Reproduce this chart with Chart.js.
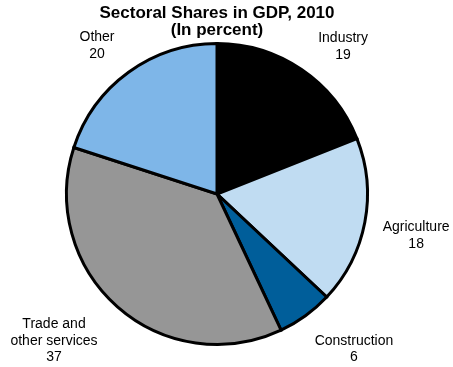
<!DOCTYPE html>
<html>
<head>
<meta charset="utf-8">
<title>Sectoral Shares in GDP, 2010</title>
<script src="https://cdn.jsdelivr.net/npm/chart.js@4/dist/chart.umd.min.js"></script>
<style>
  html, body { margin: 0; padding: 0; background: #fff; }
  #wrap { width: 453px; height: 367px; }
</style>
</head>
<body>
<div id="wrap"><canvas id="sectorPie" width="453" height="367"></canvas></div>
<script>
// sectors, clockwise from 12 o'clock
const sectors = ['Industry', 'Agriculture', 'Construction', 'Trade and other services', 'Other'];
const shares = [19, 18, 6, 37, 20];
// how each outside label is broken into lines
const labelLines = [['Industry'], ['Agriculture'], ['Construction'], ['Trade and', 'other services'], ['Other']];
const sliceColors = ['#000000', '#c0dcf2', '#005e9a', '#969696', '#7eb6e8'];

// label box shift from the point just outside each slice's middle
const labelNudge = [[19, 10], [12, 6], [25, 1], [-37, 4], [-8, 6]];

const outsideLabels = {
  id: 'outsideLabels',
  afterDatasetsDraw(chart) {
    const ctx = chart.ctx;
    const arcs = chart.getDatasetMeta(0).data;
    ctx.save();
    ctx.font = '14px "Liberation Sans", Arial, sans-serif';
    ctx.fillStyle = '#000';
    ctx.textAlign = 'center';
    ctx.textBaseline = 'middle';
    const lineH = 16.5;
    arcs.forEach((arc, i) => {
      const p = arc.getProps(['x', 'y', 'startAngle', 'endAngle', 'outerRadius'], true);
      const mid = (p.startAngle + p.endAngle) / 2;
      const r = p.outerRadius + 40;
      const cx = p.x + Math.cos(mid) * r + labelNudge[i][0];
      const cy = p.y + Math.sin(mid) * r + labelNudge[i][1];
      const lines = labelLines[i].concat([String(shares[i])]);
      const top = cy - (lines.length - 1) * lineH / 2;
      lines.forEach((t, k) => ctx.fillText(t, cx, top + k * lineH));
    });
    ctx.restore();
  }
};

new Chart(document.getElementById('sectorPie'), {
  type: 'pie',
  data: {
    labels: sectors,
    datasets: [{
      data: shares,
      backgroundColor: sliceColors,
      borderColor: '#000',
      borderWidth: 3,
      borderJoinStyle: 'miter'
    }]
  },
  options: {
    responsive: false,
    animation: false,
    layout: { padding: { left: 0, right: 19, top: 0, bottom: 21 } },
    plugins: {
      legend: { display: false },
      tooltip: { enabled: false },
      title: {
        display: true,
        text: ['Sectoral Shares in GDP, 2010', '(In percent)'],
        color: '#000',
        font: { family: '"Liberation Sans", Arial, sans-serif', size: 17, weight: 'bold', lineHeight: 1.0 },
        padding: { top: 5, bottom: 3 }
      }
    }
  },
  plugins: [outsideLabels]
});
</script>
</body>
</html>
